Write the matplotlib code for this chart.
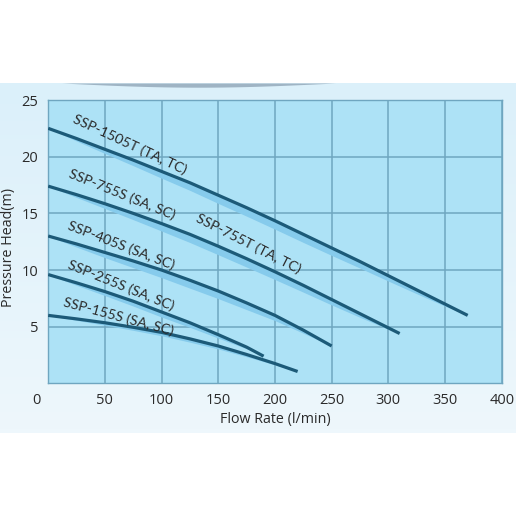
import numpy as np
import matplotlib.pyplot as plt
import matplotlib.transforms as mtransforms
from matplotlib.colors import LinearSegmentedColormap

# pump curves (flow l/min, head m)
flow_1505t = [0, 25, 50, 75, 100, 125, 150, 175, 200, 225, 250, 275, 300, 325, 350, 370]
head_1505t = [22.5, 21.6, 20.65, 19.7, 18.7, 17.7, 16.6, 15.5, 14.35, 13.15, 11.95, 10.75, 9.5, 8.25, 7.0, 6.0]

flow_755 = [0, 25, 50, 75, 100, 125, 150, 175, 200, 225, 250, 275, 300, 310]
head_755 = [17.4, 16.65, 15.85, 15.0, 14.1, 13.15, 12.1, 11.0, 9.85, 8.65, 7.4, 6.15, 4.9, 4.4]

flow_405s = [0, 25, 50, 75, 100, 125, 150, 175, 200, 225, 250]
head_405s = [13.0, 12.3, 11.55, 10.8, 10.0, 9.1, 8.15, 7.1, 6.0, 4.7, 3.3]

flow_255s = [0, 25, 50, 75, 100, 125, 150, 175, 190]
head_255s = [9.6, 8.87, 8.1, 7.25, 6.3, 5.35, 4.3, 3.2, 2.4]

flow_155s = [0, 25, 50, 75, 100, 125, 150, 175, 200, 220]
head_155s = [6.0, 5.69, 5.35, 4.95, 4.5, 3.93, 3.3, 2.55, 1.75, 1.05]

curves = [
    (flow_1505t, head_1505t),
    (flow_755, head_755),
    (flow_405s, head_405s),
    (flow_255s, head_255s),
    (flow_155s, head_155s),
]
band_w = [0.75, 0.75, 0.7, 0.45, 0.3]

labels = ['SSP-1505T (TA, TC)', 'SSP-755S (SA, SC)', 'SSP-755T (TA, TC)',
          'SSP-405S (SA, SC)', 'SSP-255S (SA, SC)', 'SSP-155S (SA, SC)']
label_x = [72, 65, 177, 64, 64.5, 62]
label_y = [21.1, 16.65, 12.3, 12.15, 8.65, 5.9]
label_rot = [-25, -22, -27, -21, -22, -15]

x_ticks = [0, 50, 100, 150, 200, 250, 300, 350, 400]
y_ticks = [5, 10, 15, 20, 25]

line_col = '#1c5a78'
band_col = '#86cbec'
grid_col = '#6fa6c0'
text_col = '#2a2a2a'

fig = plt.figure(figsize=(5.16, 5.16), dpi=100)
fig.patch.set_facecolor('white')

# light blue backdrop strip behind the chart
bg = fig.add_axes([0, (516 - 433) / 516, 1, 350 / 516])
grad = np.linspace(0, 1, 100).reshape(-1, 1)
cm = LinearSegmentedColormap.from_list('bg', ['#dbf0fa', '#eef7fc'])
bg.imshow(grad, aspect='auto', cmap=cm, extent=[0, 1, 0, 1], origin='upper')
# grey swoosh at the top edge
sx = np.linspace(0.12, 0.65, 100)
sw = 0.012 * np.sin(np.pi * (sx - 0.12) / 0.53)
bg.fill_between(sx, 1, 1 - sw, color='#9fb4c4', lw=0)
bg.set_xlim(0, 1)
bg.set_ylim(0, 1)
bg.axis('off')

ax = fig.add_axes([48.2 / 516, (516 - 383.4) / 516, 453.5 / 516, 283.4 / 516])
ax.set_facecolor('#ade2f6')

for (fl, hd), bw in zip(curves, band_w):
    fl = np.array(fl, dtype=float)
    hd = np.array(hd)
    w = bw * np.sin(np.pi * fl / fl[-1]) ** 0.8
    ax.fill_between(fl, hd, hd - w, color=band_col, lw=0, zorder=2)
    ax.plot(fl, hd, color=line_col, lw=2.3, solid_capstyle='butt', zorder=3)

for i in range(len(labels)):
    ax.text(label_x[i], label_y[i], labels[i], rotation=label_rot[i],
            rotation_mode='anchor', ha='center', va='center',
            fontsize=10.2, color=text_col, family='Lato', zorder=4)

ax.set_xlim(0, 400)
ax.set_ylim(0, 25)
ax.set_xticks(x_ticks)
ax.set_yticks(y_ticks)
ax.grid(True, color=grid_col, lw=1.1, zorder=1)
ax.set_axisbelow(True)
ax.tick_params(length=0, labelsize=10.5, labelcolor=text_col, pad=7)
for lab in ax.get_xticklabels() + ax.get_yticklabels():
    lab.set_family('Open Sans')
for s in ax.spines.values():
    s.set_color(grid_col)
    s.set_linewidth(1.0)

# the "0" label sits left of the axis corner
shift = mtransforms.ScaledTranslation(-11.5 / 100, 0, fig.dpi_scale_trans)
first = ax.get_xticklabels()[0]
first.set_transform(first.get_transform() + shift)

ax.set_xlabel('Flow Rate (l/min)', fontsize=10.3, color=text_col, family='Open Sans', labelpad=3)
ax.set_ylabel('Pressure Head(m)', fontsize=10.3, color=text_col, family='Open Sans', labelpad=9)
ax.yaxis.set_label_coords(-0.072, 0.48)

fig.savefig('out.png', dpi=100, facecolor=fig.get_facecolor())
